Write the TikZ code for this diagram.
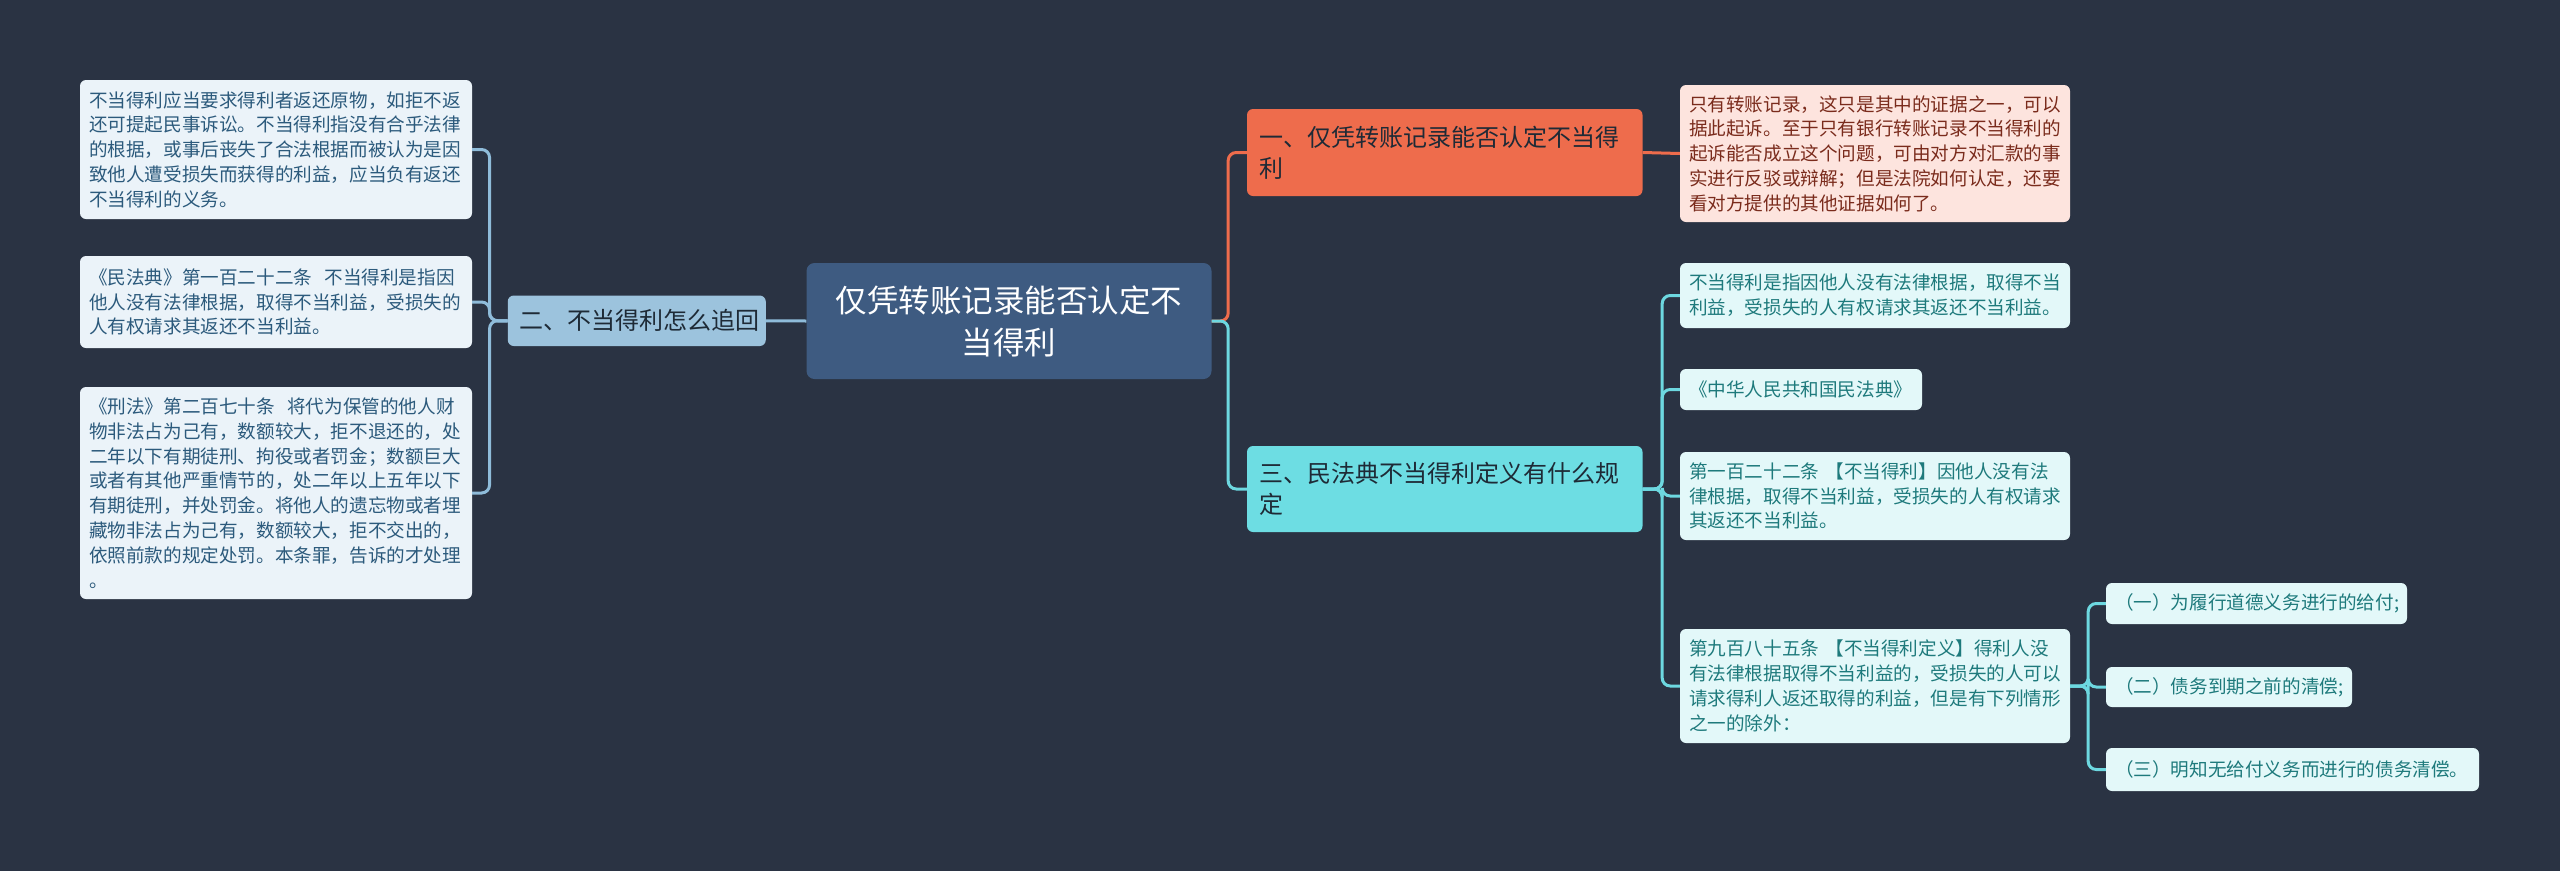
\documentclass[tikz,border=0pt]{standalone}
\usepackage{fontspec}
\setmainfont{Noto Sans CJK SC}
\definecolor{bg}{HTML}{2A3343}
\definecolor{rootfill}{HTML}{3E5B81}
\definecolor{lbfill}{HTML}{9CC3DD}
\definecolor{lleaf}{HTML}{EBF3F9}
\definecolor{lleaftext}{HTML}{2C5A7C}
\definecolor{lline}{HTML}{8FBCDA}
\definecolor{orange}{HTML}{EE6C4C}
\definecolor{oleaf}{HTML}{FDE4DE}
\definecolor{oleaftext}{HTML}{7A2B1C}
\definecolor{cyanfill}{HTML}{6DDDE3}
\definecolor{cline}{HTML}{6DD8E0}
\definecolor{cleaf}{HTML}{E3F8F9}
\definecolor{cleaftext}{HTML}{1E7A7C}
\definecolor{darktext}{HTML}{1E2A36}
\tikzset{
  box/.style={rounded corners=6, inner ysep=0, align=left, anchor=center},
  leafbox/.style={box, font=\fontsize{18.6}{24.8}\selectfont, inner xsep=9},
  lleafbox/.style={leafbox, fill=lleaf, text=lleaftext},
  oleafbox/.style={leafbox, fill=oleaf, text=oleaftext},
  cleafbox/.style={leafbox, fill=cleaf, text=cleaftext},
  branchbox/.style={box, font=\fontsize{24}{31}\selectfont, inner xsep=12, text=darktext},
  rootbox/.style={box, rounded corners=8, align=center, font=\fontsize{31.5}{42}\selectfont, fill=rootfill, text=white, inner xsep=25},
  conn/.style={line width=3, rounded corners=8},
  lconn/.style={conn, draw=lline},
  oconn/.style={conn, draw=orange},
  cconn/.style={conn, draw=cline}
}
\begin{document}
\begin{tikzpicture}[x=1pt,y=-1pt]
\useasboundingbox (0,0) rectangle (2560,871);
\fill[bg] (0,0) rectangle (2560,871);

% root
\node[rootbox, text width=355, minimum height=116] (root) at (1009,321) {仅凭转账记录能否认定不\\当得利};

% left branch
\node[branchbox, fill=lbfill, text width=234, minimum height=50.5] (lb) at (636.75,320.75) {二、不当得利怎么追回};

\node[lleafbox, text width=374, minimum height=139] (L1) at (276,149.5) {不当得利应当要求得利者返还原物，如拒不返\\还可提起民事诉讼。不当得利指没有合乎法律\\的根据，或事后丧失了合法根据而被认为是因\\致他人遭受损失而获得的利益，应当负有返还\\不当得利的义务。};
\node[lleafbox, text width=374, minimum height=92] (L2) at (276,302) {《民法典》第一百二十二条~~不当得利是指因\\他人没有法律根据，取得不当利益，受损失的\\人有权请求其返还不当利益。};
\node[lleafbox, text width=374, minimum height=212] (L3) at (276,493) {《刑法》第二百七十条~~将代为保管的他人财\\物非法占为己有，数额较大，拒不退还的，处\\二年以下有期徒刑、拘役或者罚金；数额巨大\\或者有其他严重情节的，处二年以上五年以下\\有期徒刑，并处罚金。将他人的遗忘物或者埋\\藏物非法占为己有，数额较大，拒不交出的，\\依照前款的规定处罚。本条罪，告诉的才处理\\。};

% right branch 1
\node[branchbox, fill=orange, text width=371.5, minimum height=87] (b1) at (1444.75,152.5) {一、仅凭转账记录能否认定不当得\\利};
\node[oleafbox, text width=372, minimum height=137] (r1) at (1875,153.5) {只有转账记录，这只是其中的证据之一，可以\\据此起诉。至于只有银行转账记录不当得利的\\起诉能否成立这个问题，可由对方对汇款的事\\实进行反驳或辩解；但是法院如何认定，还要\\看对方提供的其他证据如何了。};

% right branch 3
\node[branchbox, fill=cyanfill, text width=371.5, minimum height=86] (b3) at (1444.75,489) {三、民法典不当得利定义有什么规\\定};
\node[cleafbox, text width=372, minimum height=65] (ca) at (1875,295.5) {不当得利是指因他人没有法律根据，取得不当\\利益，受损失的人有权请求其返还不当利益。};
\node[cleafbox, text width=224, minimum height=41] (cb) at (1801,389.5) {《中华人民共和国民法典》};
\node[cleafbox, text width=372, minimum height=88] (cc) at (1875,496) {第一百二十二条~【不当得利】因他人没有法\\律根据，取得不当利益，受损失的人有权请求\\其返还不当利益。};
\node[cleafbox, text width=372, minimum height=114] (cd) at (1875,686) {第九百八十五条~【不当得利定义】得利人没\\有法律根据取得不当利益的，受损失的人可以\\请求得利人返还取得的利益，但是有下列情形\\之一的除外：};

\node[cleafbox, text width=283, minimum height=41] (s1) at (2256.5,603.5) {（一）为履行道德义务进行的给付;};
\node[cleafbox, text width=228, minimum height=40] (s2) at (2229,687) {（二）债务到期之前的清偿;};
\node[cleafbox, text width=355, minimum height=43] (s3) at (2292.5,769.5) {（三）明知无给付义务而进行的债务清偿。};

% connectors left
\draw[lconn] (root.west) -- (lb.east);
\draw[lconn] (lb.west) -- ++(-18,0) |- (L1.east);
\draw[lconn] (lb.west) -- ++(-18,0) |- (L2.east);
\draw[lconn] (lb.west) -- ++(-18,0) |- (L3.east);

% connectors right
\draw[oconn] (root.east) -- ++(16.5,0) |- (b1.west);
\draw[cconn] (root.east) -- ++(16.5,0) |- (b3.west);
\draw[oconn] (b1.east) -- (r1.west);
\draw[cconn] (b3.east) -- ++(19.5,0) |- (ca.west);
\draw[cconn] (b3.east) -- ++(19.5,0) |- (cb.west);
\draw[cconn] (b3.east) -- ++(19.5,0) |- (cc.west);
\draw[cconn] (b3.east) -- ++(19.5,0) |- (cd.west);
\draw[cconn] (cd.east) -- ++(18,0) |- (s1.west);
\draw[cconn] (cd.east) -- ++(18,0) |- (s2.west);
\draw[cconn] (cd.east) -- ++(18,0) |- (s3.west);
\end{tikzpicture}
\end{document}
